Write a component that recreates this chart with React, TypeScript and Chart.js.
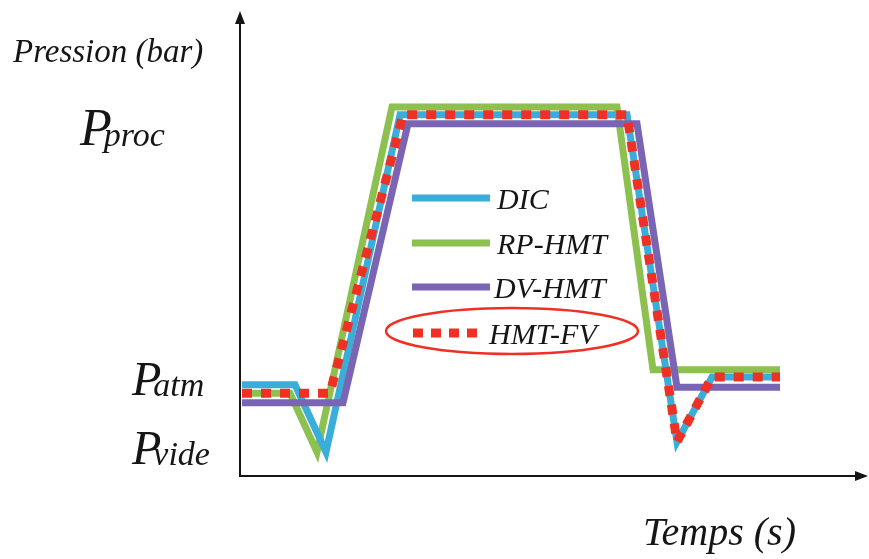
import React, { useEffect, useRef } from "react";
import { Chart, registerables } from "chart.js";

Chart.register(...registerables);

// ---- data (time in s, pressure in arbitrary bar units) ----
const seriesNames = ["DIC", "RP-HMT", "DV-HMT", "HMT-FV"];
const dicTime = [0.4, 11, 17.2, 32, 77.4, 87.4, 94.4, 108];
const dicPressure = [1.52, 1.52, 0.4, 6.02, 6.02, 0.57, 1.65, 1.65];
const rpTime = [0.4, 10, 15.4, 30.4, 75.4, 82.6, 108];
const rpPressure = [1.38, 1.38, 0.4, 6.15, 6.15, 1.77, 1.77];
const dvTime = [0.4, 20.6, 33.6, 79.4, 87.4, 108];
const dvPressure = [1.22, 1.22, 5.87, 5.87, 1.48, 1.48];
const fvTime = [0.4, 18, 32.6, 77.4, 87.4, 94.4, 108];
const fvPressure = [1.38, 1.38, 6.02, 6.02, 0.57, 1.65, 1.65];
const yTickValues = [5.8, 1.62, 0.47];
const yTickSubscripts = ["proc", "atm", "vide"];
const xAxisTitle = "Temps (s)";
const yAxisTitle = "Pression (bar)";

const COLORS = {
  dic: "#3AAED8",
  rp: "#8CC04F",
  dv: "#7A64B4",
  fv: "#EE3124",
};

const pts = (t: number[], p: number[]) => t.map((x, i) => ({ x, y: p[i] }));

const FONT = "'Liberation Serif', 'DejaVu Serif', serif";
const INK = "#151515";

const overlay = {
  id: "overlay",
  beforeDraw(chart: any) {
    const { ctx, width, height } = chart;
    ctx.save();
    ctx.fillStyle = "#ffffff";
    ctx.fillRect(0, 0, width, height);
    ctx.restore();
  },
  afterDraw(chart: any) {
    const { ctx, chartArea, scales } = chart;
    const L = chartArea.left;
    const B = chartArea.bottom;
    ctx.save();
    // axes with arrows
    ctx.strokeStyle = INK;
    ctx.fillStyle = INK;
    ctx.lineWidth = 2;
    ctx.beginPath();
    ctx.moveTo(L, B + 1);
    ctx.lineTo(L, 20);
    ctx.moveTo(L - 1, B);
    ctx.lineTo(856, B);
    ctx.stroke();
    ctx.beginPath();
    ctx.moveTo(L, 11);
    ctx.lineTo(L - 5, 24);
    ctx.lineTo(L + 5, 24);
    ctx.closePath();
    ctx.fill();
    ctx.beginPath();
    ctx.moveTo(868, B);
    ctx.lineTo(855, B - 5);
    ctx.lineTo(855, B + 5);
    ctx.closePath();
    ctx.fill();

    // axis titles
    ctx.textBaseline = "alphabetic";
    ctx.textAlign = "left";
    ctx.font = `italic 33px ${FONT}`;
    ctx.fillText(yAxisTitle, 13, 62);
    ctx.font = `italic 40px ${FONT}`;
    ctx.fillText(xAxisTitle, 643, 545);

    // y tick labels P_proc, P_atm, P_vide
    const labelX = [80, 132, 132];
    const bigSize = [52, 48, 48];
    yTickValues.forEach((v, i) => {
      const py = scales.y.getPixelForValue(v);
      const base = py + bigSize[i] * 0.33;
      ctx.font = `italic ${bigSize[i]}px ${FONT}`;
      ctx.fillText("P", labelX[i], base);
      const w = ctx.measureText("P").width;
      ctx.font = `italic 34px ${FONT}`;
      ctx.fillText(yTickSubscripts[i], labelX[i] + w - 8, base + 1);
    });

    // legend
    const rows = [198, 243, 287, 333];
    const textX = [497, 497, 494, 489];
    const cols = [COLORS.dic, COLORS.rp, COLORS.dv, COLORS.fv];
    ctx.lineCap = "butt";
    rows.forEach((y, i) => {
      ctx.beginPath();
      ctx.strokeStyle = cols[i];
      if (i === 3) {
        ctx.lineWidth = 9;
        ctx.setLineDash([10, 8]);
        ctx.moveTo(413, y);
        ctx.lineTo(478, y);
      } else {
        ctx.lineWidth = 7;
        ctx.setLineDash([]);
        ctx.moveTo(412, y);
        ctx.lineTo(490, y);
      }
      ctx.stroke();
      ctx.setLineDash([]);
      ctx.fillStyle = INK;
      ctx.font = `italic 30px ${FONT}`;
      ctx.textBaseline = "middle";
      ctx.fillText(seriesNames[i], textX[i], y + 3);
    });
    // ellipse around HMT-FV
    ctx.beginPath();
    ctx.strokeStyle = COLORS.fv;
    ctx.lineWidth = 2.5;
    ctx.ellipse(512, 331, 126, 23, 0, 0, Math.PI * 2);
    ctx.stroke();
    ctx.restore();
  },
};

export default function App() {
  const ref = useRef<HTMLCanvasElement | null>(null);
  useEffect(() => {
    if (!ref.current) return;
    const common = {
      pointRadius: 0,
      tension: 0,
      fill: false,
      borderJoinStyle: "miter" as const,
      borderCapStyle: "butt" as const,
    };
    const chart = new Chart(ref.current, {
      type: "line",
      data: {
        datasets: [
          { ...common, label: seriesNames[3], data: pts(fvTime, fvPressure), borderColor: COLORS.fv, borderWidth: 9, borderDash: [10, 9], order: 0 },
          { ...common, label: seriesNames[2], data: pts(dvTime, dvPressure), borderColor: COLORS.dv, borderWidth: 7, order: 1 },
          { ...common, label: seriesNames[0], data: pts(dicTime, dicPressure), borderColor: COLORS.dic, borderWidth: 7, order: 2 },
          { ...common, label: seriesNames[1], data: pts(rpTime, rpPressure), borderColor: COLORS.rp, borderWidth: 7, order: 3 },
        ],
      },
      options: {
        responsive: false,
        animation: false,
        devicePixelRatio: 1,
        layout: { padding: { left: 240, right: 4, top: 8, bottom: 83 } },
        scales: {
          x: { type: "linear", min: 0, max: 125, display: false },
          y: { type: "linear", min: 0, max: 7.8, display: false },
        },
        plugins: {
          legend: { display: false },
          tooltip: { enabled: false },
          title: { display: false },
        },
      },
      plugins: [overlay],
    });
    return () => chart.destroy();
  }, []);
  return (
    <div style={{ position: "fixed", left: 0, top: 0, width: 869, height: 559, background: "#fff" }}>
      <canvas ref={ref} width={869} height={559} style={{ display: "block" }} />
    </div>
  );
}
